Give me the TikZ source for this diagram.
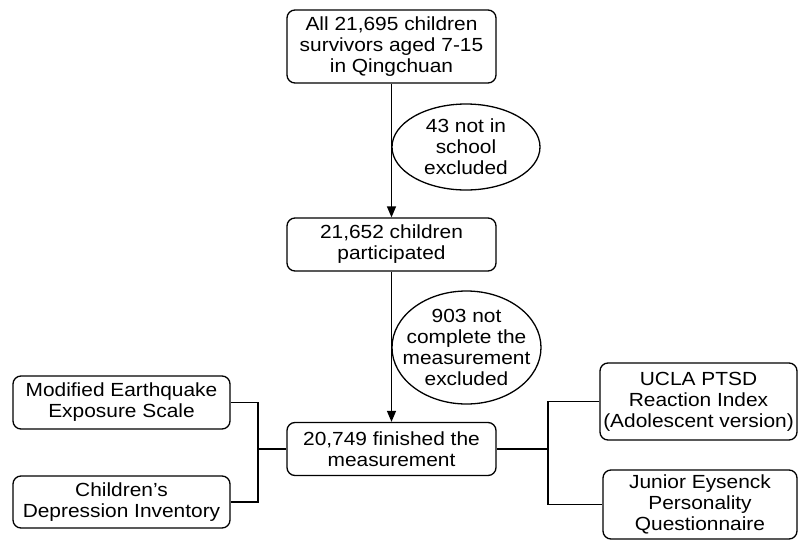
\documentclass[tikz,border=0pt]{standalone}
\usepackage{fontspec}
\setmainfont{Liberation Sans}[FakeStretch=1.1]
\usetikzlibrary{shapes.geometric,arrows.meta}
\begin{document}
\begin{tikzpicture}[x=1pt,y=-1pt,
  every node/.style={font=\fontsize{19}{21}\selectfont, align=center, inner sep=0pt},
  rbox/.style={draw, rounded corners=8pt, line width=1.3pt},
  oval/.style={draw, ellipse, line width=1.3pt, inner sep=0pt, outer sep=0pt},
  conn/.style={line width=1.3pt},
  arr/.style={conn, -{Triangle[length=11pt,width=9pt]}}]
\useasboundingbox (0,0) rectangle (798,541);
\node[rbox, minimum width=209pt, minimum height=73pt] (n1) at (391.5,46.5) {All 21,695 children\\survivors aged 7-15\\in Qingchuan};
\node[rbox, minimum width=209pt, minimum height=53pt] (n2) at (391.5,244.5) {21,652 children\\participated};
\node[rbox, minimum width=209pt, minimum height=53pt] (n3) at (391.5,449) {20,749 finished the\\measurement};
\node[oval, minimum width=148pt, minimum height=86pt] (e1) at (466,147) {};
\node (t1) at (e1.center) {43 not in\\school\\excluded};
\node[oval, minimum width=149pt, minimum height=113pt] (e2) at (466.5,347.5) {};
\node (t2) at (e2.center) {903 not\\complete the\\measurement\\excluded};
\node[rbox, minimum width=217pt, minimum height=53pt] (a) at (121.5,402.5) {Modified Earthquake\\Exposure Scale};
\node[rbox, minimum width=217pt, minimum height=52pt] (b) at (121.5,502) {Children’s\\Depression Inventory};
\node[rbox, minimum width=197pt, minimum height=77pt] (c) at (698.5,401.5) {UCLA PTSD\\Reaction Index\\(Adolescent version)};
\node[rbox, minimum width=194pt, minimum height=69pt] (d) at (700,504.5) {Junior Eysenck\\Personality\\Questionnaire};
\draw[arr] (n1) -- (n2);
\draw[arr] (n2) -- (n3);
\coordinate (jl) at (258,449);
\coordinate (jr) at (548,449);
\draw[conn] (a.east) -| (jl) |- (b.east);
\draw[conn] (jl) -- (n3.west);
\draw[conn] (c.west) -| (jr) |- (d.west);
\draw[conn] (jr) -- (n3.east);
\end{tikzpicture}
\end{document}
